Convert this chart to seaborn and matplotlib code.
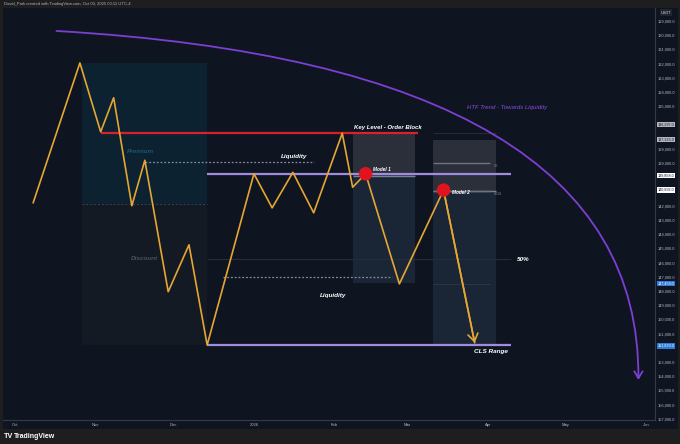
import numpy as np
import pandas as pd
import matplotlib
matplotlib.use("Agg")
import matplotlib.pyplot as plt
import matplotlib.dates as mdates
import matplotlib.transforms as mtransforms
from matplotlib.patches import Rectangle, FancyArrowPatch
from matplotlib.path import Path
import seaborn as sns

# ---------------- data ----------------
path_dates = ["2025-10-08", "2025-10-26", "2025-11-03", "2025-11-08", "2025-11-15",
              "2025-11-20", "2025-11-29", "2025-12-07", "2025-12-14", "2026-01-01",
              "2026-01-08", "2026-01-16", "2026-01-24", "2026-02-04", "2026-02-08",
              "2026-02-13", "2026-02-26", "2026-03-15", "2026-03-27"]
path_prices = [141800, 131950, 136800, 134400, 142000,
               138800, 148050, 144750, 151800, 139750,
               142150, 139650, 142500, 136900, 140700,
               139750, 147500, 140900, 151650]

model_names = ["Model 1", "Model 2"]
model_dates = ["2026-02-13", "2026-03-15"]
model_prices = [139750, 140900]

key_level = 136850
key_dates = ["2025-11-03", "2026-03-05"]

cls_high = 139750
cls_low = 151800
cls_mid = 145775
cls_dates = ["2025-12-14", "2026-04-10"]

liq_high = 138900
liq_high_dates = ["2025-11-20", "2026-01-24"]
liq_low = 147050
liq_low_dates = ["2025-12-20", "2026-02-23"]

pd_dates = ["2025-10-27", "2025-12-14"]
pd_levels = [131950, 141875, 151800]          # premium top, equilibrium, discount bottom

m1_dates = ["2026-02-08", "2026-03-04"]
m1_levels = [136850, 139900, 147450]           # top, split, bottom
m2_dates = ["2026-03-11", "2026-04-04"]
m2_levels = [137375, 140950, 151800]
m2_fibs = [138970, 140950, 147500]
m2_fib_labels = ["0.5", "0.618", ""]
m2_fib_end = "2026-04-02"

htf_dates = ["2025-10-17", "2026-05-30", "2026-05-29"]   # start, control, end
htf_prices = [129700, 132100, 154260]

axis_tags = [136297, 137325, 139858, 140892, 147459, 151870]
axis_tag_kinds = ["gray", "gray", "white", "white", "blue", "blue"]

month_ticks = ["2025-10-01", "2025-11-01", "2025-12-01", "2026-01-01", "2026-02-01",
               "2026-03-01", "2026-04-01", "2026-05-01", "2026-06-01"]
month_labels = ["Oct", "Nov", "Dec", "2026", "Feb", "Mar", "Apr", "May", "Jun"]
price_ticks = list(range(129000, 158000, 1000))

# ---------------- style ----------------
sns.set_theme(style="dark")
plt.rcParams["font.family"] = ["Liberation Sans", "DejaVu Sans"]

BG = "#0f1520"
OUTER = "#1e1e1e"
YELLOW = "#e6a634"
PURPLE = "#9f8ce0"
RED = "#d9202c"
ARC = "#7c3fd4"
TXT = "#b2b5be"

W, H = 680, 444


def rect(x0, y0, x1, y1):
    return [x0 / W, 1 - y1 / H, (x1 - x0) / W, (y1 - y0) / H]


def dn(s):
    return mdates.date2num(pd.Timestamp(s))


fig = plt.figure(figsize=(6.8, 4.44), dpi=100, facecolor=OUTER)

# right price column & bottom time strip
axr = fig.add_axes(rect(655, 8, 678, 429))
axr.set_facecolor(BG)
axr.set_xticks([]); axr.set_yticks([])
for s in axr.spines.values():
    s.set_visible(False)
axb = fig.add_axes(rect(3, 420, 678, 429))
axb.set_facecolor(BG)
axb.set_xticks([]); axb.set_yticks([])
for s in axb.spines.values():
    s.set_visible(False)

ax = fig.add_axes(rect(3, 8, 655, 420))
ax.set_facecolor(BG)

# Premium / discount zone
x0, x1 = dn(pd_dates[0]), dn(pd_dates[1])
ax.add_patch(Rectangle((x0, pd_levels[0]), x1 - x0, pd_levels[1] - pd_levels[0],
                       facecolor="#0c2230", edgecolor="none", zorder=1))
ax.add_patch(Rectangle((x0, pd_levels[1]), x1 - x0, pd_levels[2] - pd_levels[1],
                       facecolor="#141a24", edgecolor="none", zorder=1))
ax.hlines(pd_levels[1], x0, x1, colors="#3a4150", linestyles=(0, (2, 2)), lw=0.7, zorder=2)

# Model boxes
for dates, lv in [(m1_dates, m1_levels), (m2_dates, m2_levels)]:
    a, b = dn(dates[0]), dn(dates[1])
    ax.add_patch(Rectangle((a, lv[0]), b - a, lv[1] - lv[0], facecolor="#2a2f3a",
                           edgecolor="none", zorder=1))
    ax.add_patch(Rectangle((a, lv[1]), b - a, lv[2] - lv[1], facecolor="#1a2636",
                           edgecolor="none", zorder=1))
    ax.hlines(lv[1], a, b, colors="#7d828e", lw=1.0, zorder=2)

a, b = dn(m2_dates[0]), dn(m2_fib_end)
ax.hlines(m2_fibs[:2], a, b, colors="#6e7380", lw=1.0, zorder=2)
ax.hlines(m2_fibs[2], a, b, colors="#2c3444", lw=0.8, zorder=2)
ax.hlines(key_level, dn(m2_dates[0]), dn(m2_dates[1]), colors="#252a33", lw=0.8, zorder=2)
for lvl, lab in zip(m2_fibs, m2_fib_labels):
    if lab:
        ax.text(b + 1.2, lvl + 250, lab, fontsize=2.3, color="#7d828e", va="center", zorder=5)

# range lines
ax.hlines(cls_mid, dn(cls_dates[0]), dn(cls_dates[1]), colors="#262d3a", lw=0.8, zorder=2)
ax.hlines([cls_high, cls_low], dn(cls_dates[0]), dn(cls_dates[1]), colors=PURPLE, lw=1.6, zorder=3)
ax.hlines(key_level, dn(key_dates[0]), dn(key_dates[1]), colors=RED, lw=1.6, zorder=3)
ax.hlines(liq_high, dn(liq_high_dates[0]), dn(liq_high_dates[1]), colors="#858aa6",
          linestyles=(0, (1.5, 1.5)), lw=0.9, zorder=3)
ax.hlines(liq_low, dn(liq_low_dates[0]), dn(liq_low_dates[1]), colors="#858aa6",
          linestyles=(0, (1.5, 1.5)), lw=0.9, zorder=3)

# zigzag path
df = pd.DataFrame({"date": pd.to_datetime(path_dates), "price": path_prices})
sns.lineplot(data=df, x="date", y="price", ax=ax, color=YELLOW, lw=1.2, zorder=4,
             sort=False, estimator=None)
ax.annotate("", xy=(dn(path_dates[-1]), path_prices[-1]),
            xytext=(dn(path_dates[-2]), path_prices[-2]),
            arrowprops=dict(arrowstyle="->,head_length=0.45,head_width=0.3", color=YELLOW,
                            lw=1.2, shrinkA=0, shrinkB=0), zorder=4)

# model points
dm = pd.DataFrame({"date": pd.to_datetime(model_dates), "price": model_prices})
sns.scatterplot(data=dm, x="date", y="price", ax=ax, color="#e0141f", s=95,
                edgecolor="none", zorder=5)

# HTF arc
verts = [(dn(d), p) for d, p in zip(htf_dates, htf_prices)]
arc = FancyArrowPatch(path=Path(verts, [Path.MOVETO, Path.CURVE3, Path.CURVE3]),
                      arrowstyle="->,head_length=0.5,head_width=0.3", mutation_scale=10,
                      color=ARC, lw=1.3, transform=ax.transData, zorder=3)
ax.add_patch(arc)

# labels
lab_kw = dict(fontweight="bold", fontstyle="italic", zorder=6)
ax.text(dn("2026-02-21") + 0.6, 136460, "Key Level - Order Block", fontsize=4.3,
        color="white", ha="center", va="center", **lab_kw)
ax.text(dn("2026-01-16") + 0.4, 138570, "Liquidity", fontsize=4.6, color="white",
        ha="center", va="center", **lab_kw)
ax.text(dn("2026-01-31") + 0.4, 148350, "Liquidity", fontsize=4.6, color="white",
        ha="center", va="center", **lab_kw)
ax.text(dn("2026-02-15") + 0.9, 139415, model_names[0], fontsize=3.4, color="white",
        ha="left", va="center", **lab_kw)
ax.text(dn("2026-03-18") + 0.3, 141100, model_names[1], fontsize=3.4, color="white",
        ha="left", va="center", **lab_kw)
ax.text(dn("2025-11-18") + 0.5, 138150, "Premium", fontsize=4.6, color="#1c5772",
        ha="center", va="center", **lab_kw)
ax.text(dn("2025-11-19") + 0.7, 145680, "Discount", fontsize=4.6, color="#4d535e",
        ha="center", va="center", **lab_kw)
ax.text(dn("2026-04-14") + 0.6, 145750, "50%", fontsize=4.6, color="white",
        ha="center", va="center", **lab_kw)
ax.text(dn("2026-04-02") + 0.3, 152290, "CLS Range", fontsize=4.6, color="white",
        ha="center", va="center", **lab_kw)
ax.text(dn("2026-04-08") + 0.4, 135120, "HTF Trend - Towards Liquidity", fontsize=4.3,
        color="#8a4be6", ha="center", va="center", fontstyle="italic", zorder=6)

# axes
ax.set_xlim(pd.Timestamp("2025-10-01") - pd.Timedelta(days=4.6),
            pd.Timestamp("2025-10-01") + pd.Timedelta(days=246.4))
ax.set_ylim(157078, 128085)
ax.set_xlabel(""); ax.set_ylabel("")
ax.grid(False)
ax.set_xticks(pd.to_datetime(month_ticks))
ax.set_xticklabels(month_labels)
ax.set_yticks(price_ticks)
# hide tick labels hidden behind a price tag (as TradingView does)
ytl = [("" if min(abs(v - t) for t in axis_tags) < 330 else f"{v:,.1f}") for v in price_ticks]
ax.set_yticklabels(ytl)
ax.yaxis.tick_right()
ax.tick_params(axis="y", length=0, labelsize=2.9, labelcolor=TXT, pad=2.2)
ax.tick_params(axis="x", length=0, labelsize=3.0, labelcolor=TXT, pad=2.0)
for name, s in ax.spines.items():
    if name in ("right", "bottom"):
        s.set_color("#363a45"); s.set_linewidth(0.8)
    else:
        s.set_visible(False)

# axis price tags
trans = mtransforms.blended_transform_factory(ax.transAxes, ax.transData)
tag_styles = {"gray": ("#b2b5be", "#131722"), "white": ("#ffffff", "#131722"),
              "blue": ("#2e7ad9", "#ffffff")}
for v, kind in zip(axis_tags, axis_tag_kinds):
    fc, tc = tag_styles[kind]
    ax.text(1.0035, v, f"{v:,.1f}", transform=trans, fontsize=2.7, color=tc,
            ha="left", va="center", clip_on=False, zorder=10,
            bbox=dict(boxstyle="square,pad=0.15", fc=fc, ec="none"))

# header / footer
fig.text(4 / W, 1 - 4 / H, "David_Park created with TradingView.com, Oct 03, 2025 00:11 UTC-4",
         fontsize=3.0, color=TXT, va="center", ha="left")
fig.text(666 / W, 1 - 12.5 / H, "USDT", fontsize=2.8, color="#d1d4dc", ha="center",
         va="center", bbox=dict(boxstyle="square,pad=0.3", fc="#202430", ec="none"))
fig.text(4 / W, 1 - 436 / H, "TV", fontsize=5.2, color="white", fontweight="bold",
         va="center", ha="left")
fig.text(14 / W, 1 - 436 / H, "TradingView", fontsize=5.0, color="white", fontweight="bold",
         va="center", ha="left")

fig.savefig("out.png", dpi=100, facecolor=OUTER)
